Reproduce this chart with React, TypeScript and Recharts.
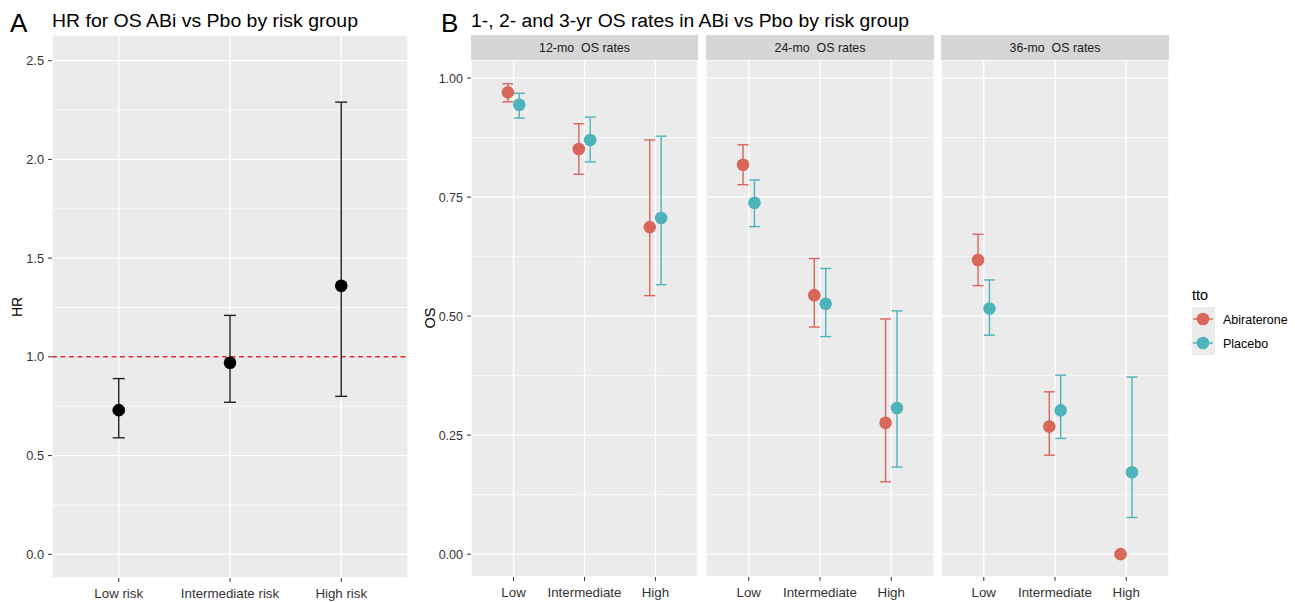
import React from 'react';
import {
  CartesianGrid,
  ErrorBar,
  ReferenceLine,
  Scatter,
  ScatterChart,
  XAxis,
  YAxis,
} from 'recharts';

// Panel A: hazard ratio for OS by risk group
const riskGroups = ['Low risk', 'Intermediate risk', 'High risk'];
const hrEstimate = [0.73, 0.97, 1.36];
const hrLower = [0.59, 0.77, 0.8];
const hrUpper = [0.89, 1.21, 2.29];
const hrTicks = [0, 0.5, 1, 1.5, 2, 2.5];
const hrMinorTicks = [0.25, 0.75, 1.25, 1.75, 2.25];

// Panel B: OS rates, rows = facet (12/24/36 mo), cols = Low / Intermediate / High
const osGroups = ['Low', 'Intermediate', 'High'];
const facetLabels = ['12-mo  OS rates', '24-mo  OS rates', '36-mo  OS rates'];
const treatments = ['Abiraterone', 'Placebo'];

const abiOs = [
  [0.97, 0.851, 0.687],
  [0.818, 0.544, 0.276],
  [0.618, 0.268, 0.0],
];
const abiLower = [
  [0.95, 0.798, 0.543],
  [0.776, 0.477, 0.152],
  [0.564, 0.208, null],
];
const abiUpper = [
  [0.988, 0.904, 0.87],
  [0.86, 0.621, 0.494],
  [0.672, 0.341, null],
];
const pboOs = [
  [0.944, 0.87, 0.706],
  [0.738, 0.526, 0.307],
  [0.516, 0.302, 0.172],
];
const pboLower = [
  [0.916, 0.824, 0.566],
  [0.688, 0.457, 0.183],
  [0.46, 0.243, 0.077],
];
const pboUpper = [
  [0.968, 0.918, 0.878],
  [0.786, 0.6, 0.511],
  [0.576, 0.376, 0.372],
];
const osTicks = [0, 0.25, 0.5, 0.75, 1];
const osMinorTicks = [0.125, 0.375, 0.625, 0.875];

const ABI = '#D9665B';
const PBO = '#4FB3BC';
const PANEL = '#ebebeb';
const STRIP = '#d6d6d6';
const INK = '#333333';
const FONT = '"Liberation Sans", Arial, Helvetica, sans-serif';
const DODGE = 0.08;

// asymmetric error as [below, above] offsets from the estimate
const ci = (v: number, lo: number | null, hi: number | null) =>
  lo == null || hi == null ? undefined : [v - lo, hi - v];

const dot = (color: string) => (p: any) =>
  <circle cx={p.cx} cy={p.cy} r={6.3} fill={color} />;

function HrPanel() {
  const data = riskGroups.map((_, i) => ({
    x: i + 1,
    y: hrEstimate[i],
    err: ci(hrEstimate[i], hrLower[i], hrUpper[i]),
  }));
  return (
    <div style={{ position: 'absolute', left: 0, top: 0 }}>
      <ScatterChart width={420} height={602} margin={{ top: 35, right: 12, bottom: 0, left: 0 }}>
        <CartesianGrid fill={PANEL} fillOpacity={1} stroke="#fff" strokeWidth={1.4} />
        {hrMinorTicks.map((v) => (
          <ReferenceLine key={v} y={v} stroke="#fff" strokeWidth={0.7} />
        ))}
        <XAxis
          type="number"
          dataKey="x"
          domain={[0.4, 3.6]}
          ticks={[1, 2, 3]}
          interval={0}
          allowDataOverflow
          tickFormatter={(v: number) => riskGroups[v - 1]}
          axisLine={false}
          tickLine={{ stroke: INK }}
          tickSize={4}
          tickMargin={7}
          height={24}
          tick={{ fill: INK, fontSize: 13.3 }}
        />
        <YAxis
          type="number"
          dataKey="y"
          domain={[-0.12, 2.63]}
          ticks={hrTicks}
          allowDataOverflow
          tickFormatter={(v: number) => v.toFixed(1)}
          axisLine={false}
          tickLine={{ stroke: INK }}
          tickSize={4}
          tickMargin={4}
          width={52}
          tick={{ fill: INK, fontSize: 12.8 }}
        />
        <ReferenceLine y={1} stroke="#E0282A" strokeWidth={1.5} strokeDasharray="5 3.5" />
        <Scatter data={data} isAnimationActive={false} shape={dot('#000')}>
          <ErrorBar dataKey="err" direction="y" width={6} stroke="#222" strokeWidth={1.4} />
        </Scatter>
      </ScatterChart>
    </div>
  );
}

function OsFacet({ idx, left, width, showAxis }: { idx: number; left: number; width: number; showAxis: boolean }) {
  const abi = osGroups.map((_, i) => ({
    x: i + 1 - DODGE,
    y: abiOs[idx][i],
    err: ci(abiOs[idx][i], abiLower[idx][i], abiUpper[idx][i]),
  }));
  const pbo = osGroups.map((_, i) => ({
    x: i + 1 + DODGE,
    y: pboOs[idx][i],
    err: ci(pboOs[idx][i], pboLower[idx][i], pboUpper[idx][i]),
  }));
  return (
    <div style={{ position: 'absolute', left, top: 0 }}>
      <ScatterChart width={width} height={602} margin={{ top: 60, right: 0, bottom: 0, left: 0 }}>
        <CartesianGrid fill={PANEL} fillOpacity={1} stroke="#fff" strokeWidth={1.4} />
        {osMinorTicks.map((v) => (
          <ReferenceLine key={v} y={v} stroke="#fff" strokeWidth={0.7} />
        ))}
        <XAxis
          type="number"
          dataKey="x"
          domain={[0.4, 3.6]}
          ticks={[1, 2, 3]}
          interval={0}
          allowDataOverflow
          tickFormatter={(v: number) => osGroups[v - 1]}
          axisLine={false}
          tickLine={{ stroke: INK }}
          tickSize={4}
          tickMargin={6.5}
          height={25}
          tick={{ fill: INK, fontSize: 13.3 }}
        />
        <YAxis
          type="number"
          dataKey="y"
          domain={[-0.048, 1.038]}
          ticks={osTicks}
          allowDataOverflow
          hide={!showAxis}
          tickFormatter={(v: number) => v.toFixed(2)}
          axisLine={false}
          tickLine={{ stroke: INK }}
          tickSize={4}
          tickMargin={4}
          width={showAxis ? 51 : 0}
          tick={{ fill: INK, fontSize: 12.5 }}
        />
        <Scatter name={treatments[0]} data={abi} isAnimationActive={false} shape={dot(ABI)}>
          <ErrorBar dataKey="err" direction="y" width={5.5} stroke={ABI} strokeWidth={1.4} />
        </Scatter>
        <Scatter name={treatments[1]} data={pbo} isAnimationActive={false} shape={dot(PBO)}>
          <ErrorBar dataKey="err" direction="y" width={5.5} stroke={PBO} strokeWidth={1.4} />
        </Scatter>
      </ScatterChart>
    </div>
  );
}

// facet placement (left, width of each ScatterChart)
const facetBoxes = [
  { left: 420, width: 278, showAxis: true, stripX: 471, stripW: 227 },
  { left: 706, width: 228, showAxis: false, stripX: 706, stripW: 228 },
  { left: 941, width: 228, showAxis: false, stripX: 941, stripW: 228 },
];

function Overlay() {
  const colors = [ABI, PBO];
  return (
    <svg
      width={1295}
      height={602}
      style={{ position: 'absolute', left: 0, top: 0, pointerEvents: 'none', fontFamily: FONT }}
    >
      <text x={10} y={32} fontSize={26} fill="#000">A</text>
      <text x={52} y={27} fontSize={18} fill="#000" textLength={306} lengthAdjust="spacingAndGlyphs">
        HR for OS ABi vs Pbo by risk group
      </text>
      <text x={441} y={32} fontSize={26} fill="#000">B</text>
      <text x={471} y={27} fontSize={18} fill="#000" textLength={438} lengthAdjust="spacingAndGlyphs">
        1-, 2- and 3-yr OS rates in ABi vs Pbo by risk group
      </text>

      {facetBoxes.map((b, i) => (
        <g key={i}>
          <rect x={b.stripX} y={35} width={b.stripW} height={25} fill={STRIP} />
          <text
            x={b.stripX + b.stripW / 2}
            y={52}
            fontSize={12.4}
            fill="#1a1a1a"
            textAnchor="middle"
            style={{ whiteSpace: 'pre' }}
          >
            {facetLabels[i]}
          </text>
        </g>
      ))}

      <text transform="translate(21.5,307) rotate(-90)" fontSize={14} fill="#000" textAnchor="middle">HR</text>
      <text transform="translate(435,318) rotate(-90)" fontSize={14.5} fill="#000" textAnchor="middle">OS</text>

      <text x={1192} y={300} fontSize={14.5} fill="#000">tto</text>
      <rect x={1192} y={307} width={23} height={48} fill={PANEL} />
      {treatments.map((t, i) => (
        <g key={t}>
          <line x1={1193} x2={1213} y1={319 + i * 24} y2={319 + i * 24} stroke={colors[i]} strokeWidth={1.4} />
          <circle cx={1203} cy={319 + i * 24} r={6.3} fill={colors[i]} />
          <text x={1223} y={324 + i * 24} fontSize={12.5} fill="#000">{t}</text>
        </g>
      ))}
    </svg>
  );
}

export default function App() {
  return (
    <div style={{ position: 'absolute', left: 0, top: 0, width: 1295, height: 602, background: '#fff', fontFamily: FONT }}>
      <HrPanel />
      {facetBoxes.map((b, i) => (
        <OsFacet key={i} idx={i} left={b.left} width={b.width} showAxis={b.showAxis} />
      ))}
      <Overlay />
    </div>
  );
}
